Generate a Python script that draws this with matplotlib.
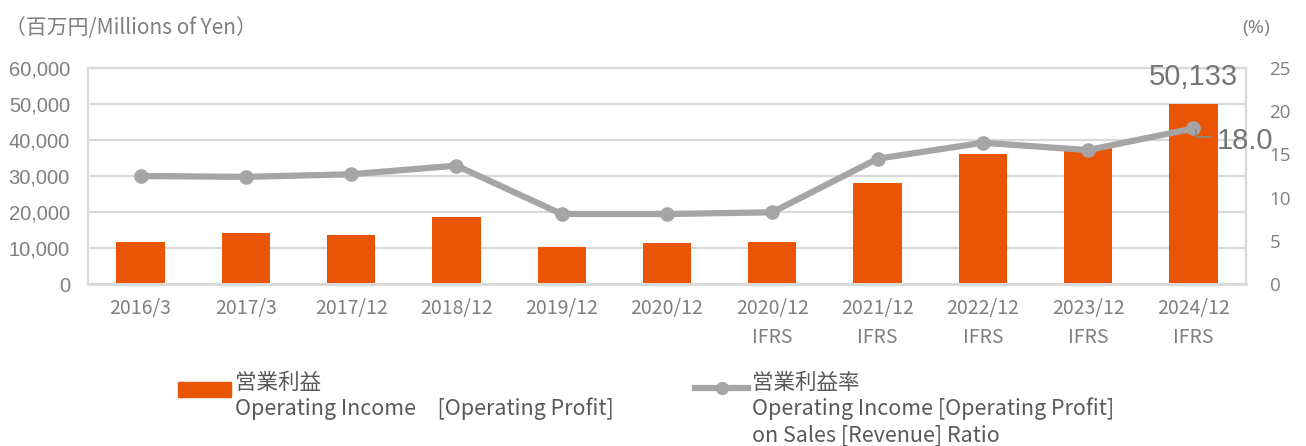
import matplotlib
matplotlib.use("Agg")
import matplotlib.pyplot as plt
from matplotlib.patches import Rectangle
from matplotlib.lines import Line2D

plt.rcParams['font.family'] = ['Noto Sans CJK JP', 'DejaVu Sans']

categories = ["2016/3", "2017/3", "2017/12", "2018/12", "2019/12", "2020/12",
              "2020/12\nIFRS", "2021/12\nIFRS", "2022/12\nIFRS", "2023/12\nIFRS", "2024/12\nIFRS"]
operating_income = [11700, 14100, 13700, 18600, 10300, 11500, 11700, 28000, 36100, 38000, 50133]
margin_pct = [12.5, 12.4, 12.7, 13.7, 8.1, 8.1, 8.3, 14.5, 16.35, 15.5, 18.0]
left_ticks = [0, 10000, 20000, 30000, 40000, 50000, 60000]
right_ticks = [0, 5, 10, 15, 20, 25]

BAR = "#E95504"
LINE = "#A5A5A5"
TXT = "#7F7F7F"
GRID = "#D9D9D9"

W, H = 1306, 446
fig = plt.figure(figsize=(W / 100, H / 100), dpi=100)
ax = fig.add_axes([88 / W, 1 - 284 / H, (1246 - 88) / W, (284 - 68) / H])

x = list(range(len(categories)))
ax.bar(x, operating_income, width=0.46, color=BAR, zorder=2)
ax.set_xlim(-0.5, len(categories) - 0.5)
ax.set_ylim(0, 60000)
ax.set_yticks(left_ticks)
ax.set_yticklabels([f"{v:,}" for v in left_ticks], fontfamily='Liberation Sans', fontsize=14.5, color=TXT)
ax.set_xticks(x)
ax.set_xticklabels(categories, fontsize=14, color=TXT, linespacing=1.5)
ax.tick_params(axis='x', length=0, pad=10)
ax.tick_params(axis='y', length=0, pad=13)
ax.grid(axis='y', color=GRID, lw=1.6, zorder=0)
for s in ax.spines.values():
    s.set_color(GRID)
    s.set_linewidth(1.6)
ax.spines['bottom'].set_linewidth(2.2)

ax2 = ax.twinx()
ax2.plot(x, margin_pct, color=LINE, lw=4.5, marker='o', markersize=9.5, zorder=3)
ax2.set_ylim(0, 25)
ax2.set_yticks(right_ticks)
ax2.set_yticklabels([str(v) for v in right_ticks], fontfamily='Open Sans', fontsize=13.5, color=TXT)
ax2.tick_params(axis='y', length=0, pad=17)
for s in ax2.spines.values():
    s.set_visible(False)

# data labels
ax.annotate(f"{operating_income[-1]:,}", xy=(x[-1], operating_income[-1]), xytext=(0, 9),
            textcoords='offset points', ha='center', va='bottom',
            fontfamily='Liberation Sans', fontsize=21, color="#757575", zorder=5)
ax2.annotate(f"{margin_pct[-1]:.1f}", xy=(x[-1], margin_pct[-1]), xytext=(17, -9),
             textcoords='offset points', ha='left', va='center',
             fontfamily='Liberation Sans', fontsize=21, color="#757575", zorder=5,
             annotation_clip=False)
lx0 = 1196 / W
fig.add_artist(Line2D([lx0, lx0, 1211 / W], [1 - 130 / H, 1 - 137 / H, 1 - 137 / H],
                      color="#8a8a8a", lw=1.2))

# axis titles
fig.text(5 / W, 1 - 28 / H, "（百万円/Millions of Yen）", fontsize=15, color=TXT, va='center', ha='left')
fig.text(1256 / W, 1 - 28 / H, "(%)", fontfamily='Open Sans', fontsize=14, color=TXT, va='center', ha='center')

# legend
fig.add_artist(Rectangle((178 / W, 1 - 397 / H), 53 / W, 15 / H, color=BAR, transform=fig.transFigure))
LT = "#595959"
FS = 15.5
fig.text(235 / W, 1 - 383 / H, "営業利益", fontsize=FS, color=LT, va='center')
fig.text(235 / W, 1 - 409 / H, "Operating Income　[Operating Profit]", fontsize=FS, color=LT, va='center')
fig.add_artist(Line2D([695 / W, 748 / W], [1 - 388 / H, 1 - 388 / H], color=LINE, lw=4.5))
fig.add_artist(Line2D([722 / W], [1 - 388 / H], color=LINE, marker='o', markersize=8.5))
fig.text(752 / W, 1 - 383 / H, "営業利益率", fontsize=FS, color=LT, va='center')
fig.text(752 / W, 1 - 409 / H, "Operating Income [Operating Profit]", fontsize=FS, color=LT, va='center')
fig.text(752 / W, 1 - 435 / H, "on Sales [Revenue] Ratio", fontsize=FS, color=LT, va='center')

fig.savefig("out.png", dpi=100)
